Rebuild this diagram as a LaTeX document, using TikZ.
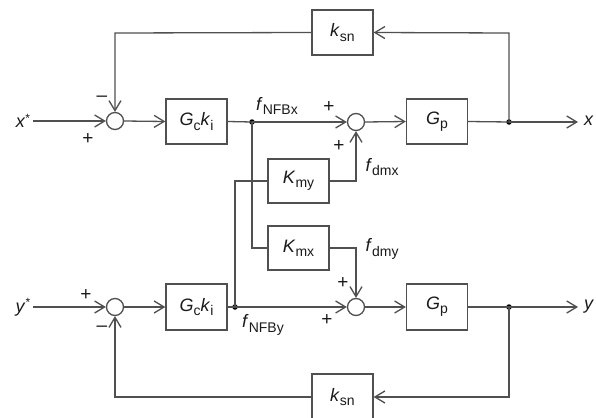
\documentclass[tikz,border=0pt]{standalone}
\usepackage{fontspec}
\setmainfont{Liberation Sans}
\usetikzlibrary{arrows.meta}
\definecolor{ln}{HTML}{505050}
\definecolor{tx}{HTML}{1A1A1A}
\newcommand{\lsub}[1]{\raisebox{-0.45ex}{\fontsize{14}{15}\selectfont #1}}
\tikzset{
  blk/.style={draw=ln, line width=1.3pt, minimum width=61pt, minimum height=45pt, inner sep=0pt, text=tx, font=\fontsize{18}{19}\selectfont},
  sumc/.style={draw=ln, line width=1.3pt, circle, minimum size=17pt, inner sep=0pt},
  wire/.style={draw=ln, line width=1.3pt},
  arr/.style={wire, -{Straight Barb[length=10pt,width=12pt,line width=1.3pt]}},
  lbl/.style={text=tx, inner sep=0pt, font=\fontsize{18}{19}\selectfont},
  sgn/.style={text=tx, inner sep=0pt, font=\fontsize{19}{20}\selectfont},
  dotj/.style={circle, fill=black, inner sep=0pt, minimum size=5.5pt},
}
\begin{document}
\begin{tikzpicture}[x=1pt,y=-1pt]
\useasboundingbox[fill=white] (0,0) rectangle (596,417);
% top loop
\node[lbl] (xin) at (23,121) {\textit{x}\raisebox{0.6ex}{\fontsize{12}{12}\selectfont *}};
\node[sumc] (s1) at (115,121) {};
\node[blk] (gc1) at (196.5,121.5) {\textit{G}\lsub{c}\textit{k}\lsub{i}};
\node[dotj] (j1) at (252,122) {};
\node[sumc] (s2) at (356,122) {};
\node[blk] (gp1) at (437,121.5) {\textit{G}\lsub{p}};
\node[dotj] (j2) at (509,122) {};
\coordinate (xo) at (578,122);
\node[lbl,anchor=west] (xout) at (584,121) {\textit{x}};
\node[blk] (ks1) at (342.5,32.5) {\textit{k}\lsub{sn}};
\coordinate (c1) at (509,33);
\coordinate (c2) at (115,33);

% middle
\node[blk, minimum height=44pt] (kmy) at (298.5,181) {\textit{K}\lsub{my}};
\node[blk, minimum height=44pt] (kmx) at (298.5,248) {\textit{K}\lsub{mx}};
\coordinate (c3) at (252,248);
\coordinate (c4) at (235,181);
\coordinate (c5) at (356,181);
\coordinate (c6) at (356,248);

% bottom loop
\node[lbl] (yin) at (23,307) {\textit{y}\raisebox{0.6ex}{\fontsize{12}{12}\selectfont *}};
\node[sumc] (s3) at (115,307) {};
\node[blk, minimum height=46pt] (gc2) at (196.5,307) {\textit{G}\lsub{c}\textit{k}\lsub{i}};
\node[dotj] (j3) at (235,307) {};
\node[sumc] (s4) at (356,307) {};
\node[blk, minimum height=46pt] (gp2) at (437,307) {\textit{G}\lsub{p}};
\node[dotj] (j4) at (509,307) {};
\coordinate (yo) at (578,307);
\node[lbl,anchor=west] (yout) at (584,307) {\textit{y}};
\node[blk, minimum height=46pt] (ks2) at (342.5,397) {\textit{k}\lsub{sn}};
\coordinate (c7) at (509,397);
\coordinate (c8) at (115,397);

% wires top
\draw[arr] (xin.east) ++(3,0) -- (s1.west);
\draw[arr] (s1.east) -- (gc1.west);
\draw[wire] (gc1.east) -- (j1.center);
\draw[arr] (j1.center) -- (s2.west);
\draw[arr] (s2.east) -- (gp1.west);
\draw[wire] (gp1.east) -- (j2.center);
\draw[arr] (j2.center) -- (xo);
\draw[arr] (j2.center) -- (c1) -- (ks1.east);
\draw[arr] (ks1.west) -- (c2) -- (s1.north);

% wires middle
\draw[wire] (j1.center) -- (c3) -- (kmx.west);
\draw[wire] (j3.center) -- (c4) -- (kmy.west);
\draw[arr] (kmy.east) -- (c5) -- (s2.south);
\draw[arr] (kmx.east) -- (c6) -- (s4.north);

% wires bottom
\draw[arr] (yin.east) ++(3,0) -- (s3.west);
\draw[arr] (s3.east) -- (gc2.west);
\draw[wire] (gc2.east) -- (j3.center);
\draw[arr] (j3.center) -- (s4.west);
\draw[arr] (s4.east) -- (gp2.west);
\draw[wire] (gp2.east) -- (j4.center);
\draw[arr] (j4.center) -- (yo);
\draw[arr] (j4.center) -- (c7) -- (ks2.east);
\draw[arr] (ks2.west) -- (c8) -- (s3.south);

% labels
\node[lbl] (lnx) at (277,106) {\textit{f}\lsub{NFBx}};
\node[lbl] (lny) at (263,325) {\textit{f}\lsub{NFBy}};
\node[lbl] (ldx) at (382,167) {\textit{f}\lsub{dmx}};
\node[lbl] (ldy) at (382,249) {\textit{f}\lsub{dmy}};
\node[sgn] (m1) at (102,99) {–};
\node[sgn] (p1) at (88,139) {+};
\node[sgn] (p2) at (329,107) {+};
\node[sgn] (p3) at (339,146) {+};
\node[sgn] (p4) at (86,295) {+};
\node[sgn] (m2) at (102,329) {–};
\node[sgn] (p5) at (343,283) {+};
\node[sgn] (p6) at (327,320) {+};
\end{tikzpicture}
\end{document}
